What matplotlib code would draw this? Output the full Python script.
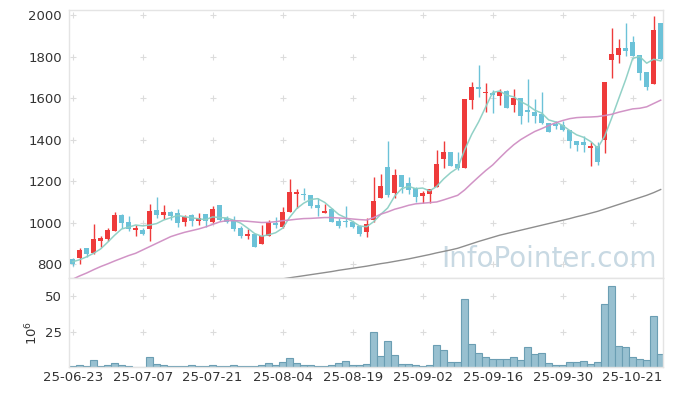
import numpy as np
import pandas as pd
import matplotlib
matplotlib.use("Agg")
import matplotlib.pyplot as plt

# trading days (KRX holidays removed)
holidays = ["2025-08-15", "2025-10-03", "2025-10-06", "2025-10-07", "2025-10-08", "2025-10-09"]
dates = pd.bdate_range("2025-06-23", "2025-10-27")
dates = dates[~dates.isin(pd.to_datetime(holidays))]

opens = [826, 832, 879, 853, 914, 922, 962, 1037, 1002, 966,
         965, 968, 1061, 1037, 1050, 1045, 1005, 1037, 1010, 1041,
         1005, 1086, 1025, 1010, 973, 935, 946, 896, 938, 998,
         981, 1050, 1140, 1137, 1134, 1086, 1049, 1065, 1010, 1010,
         1005, 985, 957, 1013, 1121, 1270, 1145, 1230, 1193, 1166,
         1129, 1139, 1174, 1309, 1341, 1283, 1265, 1591, 1652, 1625,
         1623, 1612, 1636, 1566, 1601, 1542, 1533, 1525, 1481, 1477,
         1472, 1448, 1395, 1389, 1360, 1371, 1397, 1785, 1805, 1839,
         1869, 1809, 1724, 1668, 1962]
highs = [830, 880, 879, 993, 935, 973, 1050, 1041, 1034, 989,
         973, 1090, 1122, 1086, 1058, 1066, 1037, 1041, 1045, 1041,
         1082, 1086, 1033, 1034, 986, 970, 946, 989, 1015, 1030,
         1078, 1209, 1161, 1166, 1134, 1118, 1089, 1070, 1021, 1082,
         1010, 990, 1021, 1222, 1233, 1394, 1259, 1230, 1222, 1174,
         1155, 1161, 1350, 1392, 1341, 1342, 1596, 1676, 1760, 1671,
         1639, 1643, 1641, 1644, 1601, 1692, 1596, 1630, 1481, 1489,
         1489, 1448, 1395, 1419, 1391, 1391, 1678, 1938, 1885, 1962,
         1898, 1809, 1724, 1997, 1962]
lows = [792, 800, 837, 848, 885, 914, 962, 973, 960, 938,
        941, 912, 1021, 1018, 1013, 981, 984, 986, 989, 978,
        997, 1010, 1000, 959, 925, 922, 885, 896, 938, 973,
        976, 1050, 1070, 1110, 1070, 1033, 1049, 1002, 976, 978,
        973, 935, 930, 1005, 1121, 1124, 1118, 1142, 1139, 1102,
        1097, 1094, 1174, 1264, 1273, 1254, 1265, 1546, 1607, 1535,
        1530, 1567, 1550, 1533, 1473, 1484, 1481, 1477, 1436, 1453,
        1440, 1360, 1347, 1339, 1275, 1278, 1336, 1697, 1769, 1802,
        1802, 1686, 1638, 1668, 1785]
closes = [802, 869, 850, 922, 925, 965, 1037, 1000, 968, 973,
          946, 1057, 1037, 1050, 1031, 1000, 1029, 1010, 1025, 1010,
          1065, 1013, 1002, 970, 938, 946, 885, 936, 1004, 991,
          1052, 1147, 1148, 1132, 1082, 1070, 1057, 1005, 986, 1002,
          981, 944, 993, 1105, 1179, 1134, 1230, 1174, 1158, 1126,
          1145, 1161, 1283, 1341, 1273, 1264, 1596, 1651, 1644, 1628,
          1615, 1631, 1553, 1601, 1513, 1532, 1513, 1481, 1437, 1464,
          1445, 1392, 1376, 1376, 1367, 1290, 1678, 1810, 1839, 1826,
          1802, 1721, 1654, 1930, 1789]
# volume in 10^6 shares
volumes = [0.7, 1.2, 0.7, 4.7, 0.7, 1.2, 2.6, 1.2, 0.7, 0.3,
           0.3, 6.8, 1.9, 1.2, 0.5, 0.5, 0.5, 1.2, 0.5, 0.5,
           1.2, 0.5, 0.5, 1.2, 0.5, 0.5, 0.5, 1.2, 2.6, 1.2,
           3.3, 6.1, 2.6, 1.2, 1.2, 0.5, 0.5, 1.2, 2.6, 4.0,
           1.2, 1.2, 1.9, 24.4, 7.5, 18.1, 8.2, 1.9, 1.9, 1.4,
           0.5, 1.4, 15.3, 11.7, 3.3, 3.3, 47.7, 16.0, 9.6, 6.8,
           5.4, 5.4, 5.4, 6.8, 4.7, 13.8, 8.9, 9.6, 2.6, 1.2,
           1.2, 3.3, 3.3, 4.0, 1.9, 3.3, 44.1, 56.8, 14.6, 13.8,
           6.8, 5.4, 4.7, 35.7, 8.9]
ma5 = [812, 822, 836, 853, 874, 906, 940, 970, 979, 989,
       985, 989, 996, 1013, 1024, 1035, 1029, 1024, 1019, 1015,
       1028, 1025, 1023, 1012, 998, 974, 948, 935, 942, 952,
       974, 1026, 1068, 1094, 1112, 1116, 1098, 1069, 1040, 1024,
       1006, 984, 981, 1005, 1040, 1071, 1128, 1164, 1175, 1164,
       1167, 1153, 1175, 1211, 1241, 1264, 1351, 1425, 1486, 1557,
       1627, 1634, 1614, 1606, 1583, 1566, 1542, 1528, 1495, 1485,
       1468, 1444, 1423, 1411, 1391, 1360, 1417, 1504, 1597, 1689,
       1791, 1800, 1768, 1787, 1779]
ma20 = [728, 744, 758, 774, 789, 802, 816, 829, 842, 853,
        869, 885, 901, 917, 933, 944, 954, 962, 970, 980,
        992, 1004, 1010, 1010, 1009, 1007, 1004, 1001, 1002, 1005,
        1010, 1013, 1017, 1020, 1021, 1023, 1025, 1025, 1023, 1021,
        1018, 1015, 1013, 1025, 1041, 1052, 1065, 1074, 1084, 1091,
        1094, 1097, 1100, 1110, 1121, 1132, 1158, 1190, 1221, 1251,
        1278, 1312, 1345, 1375, 1400, 1420, 1439, 1453, 1468, 1481,
        1492, 1501, 1506, 1508, 1509, 1511, 1516, 1522, 1532, 1540,
        1548, 1551, 1558, 1574, 1590]
ma60 = [np.nan] * 30 + [
        730, 735, 740, 745, 750, 755, 760, 765, 771, 776,
        781, 786, 791, 797, 803, 808, 814, 820, 826, 833,
        840, 847, 855, 862, 869, 877, 888, 899, 910, 920,
        930, 940, 948, 956, 964, 972, 980, 988, 996, 1004,
        1012, 1020, 1029, 1037, 1046, 1055, 1066, 1077, 1088, 1099,
        1110, 1121, 1132, 1145, 1160]
price_ticks = [800, 1000, 1200, 1400, 1600, 1800, 2000]
vol_ticks = [25, 50]

RED = "#ee3b3b"
TEAL = "#6cc2d8"
GRID = "#dcdcdc"
SPINE = "#e4e4e4"
TXT = "#333333"

W, H = 673, 396
fig = plt.figure(figsize=(W / 100, H / 100), dpi=100)
ax = fig.add_axes([69 / W, (H - 278) / H, 594 / W, 268 / H])
axv = fig.add_axes([69 / W, (H - 367) / H, 594 / W, 89 / H], sharex=ax)

x = np.arange(len(dates))
o = np.array(opens, float)
c = np.array(closes, float)
colors = np.where(c >= o, RED, TEAL)

# grid crosses
xt = np.arange(0, len(dates), 10)
gx, gy = np.meshgrid(xt, price_ticks)
ax.scatter(gx.ravel(), gy.ravel(), marker="+", s=18, color=GRID, linewidths=0.8, zorder=0)
gx, gy = np.meshgrid(xt, vol_ticks)
axv.scatter(gx.ravel(), gy.ravel(), marker="+", s=18, color=GRID, linewidths=0.8, zorder=0)

ax.text(0.99, 0.04, "InfoPointer.com", transform=ax.transAxes, ha="right", va="baseline",
        fontsize=20, color="#c8d9e3", zorder=1)

# candles
ax.vlines(x, lows, highs, colors=colors, linewidth=1.0, zorder=2)
ax.bar(x, np.maximum(np.abs(c - o), 3), width=0.68, bottom=np.minimum(o, c),
       color=colors, linewidth=0, zorder=3)

ax.plot(x, ma5, color="#8ccfc4", lw=1.1, alpha=0.95, zorder=4)
ax.plot(x, ma20, color="#cf8ec3", lw=1.1, alpha=0.95, zorder=4)
ax.plot(x, ma60, color="#8e8e8e", lw=1.0, zorder=4)

ax.set_ylim(734, 2024)
ax.set_xlim(-0.52, 84.33)
ax.set_yticks(price_ticks)
ax.tick_params(axis="y", length=0, pad=5, labelsize=9.5, labelcolor=TXT)
ax.tick_params(axis="x", length=0, labelbottom=False)

# volume
axv.bar(x, volumes, width=1.0, color="#98c0d0", edgecolor="#6b9eb3", linewidth=0.8, zorder=2)
axv.set_ylim(0, 62.7)
axv.set_yticks(vol_ticks)
axv.set_xticks(xt)
axv.set_xticklabels([d.strftime("%y-%m-%d") for d in dates[::10]])
axv.tick_params(length=0, labelsize=9.5, labelcolor=TXT)
axv.tick_params(axis="y", pad=5)
axv.tick_params(axis="x", pad=3)
fig.text(32 / W, (H - 333) / H, r"$10^6$", rotation=90, ha="center", va="center",
         fontsize=9.5, color=TXT)

for a in (ax, axv):
    for s in a.spines.values():
        s.set_color(SPINE)
        s.set_linewidth(1.0)

fig.savefig("out.png", dpi=100)
